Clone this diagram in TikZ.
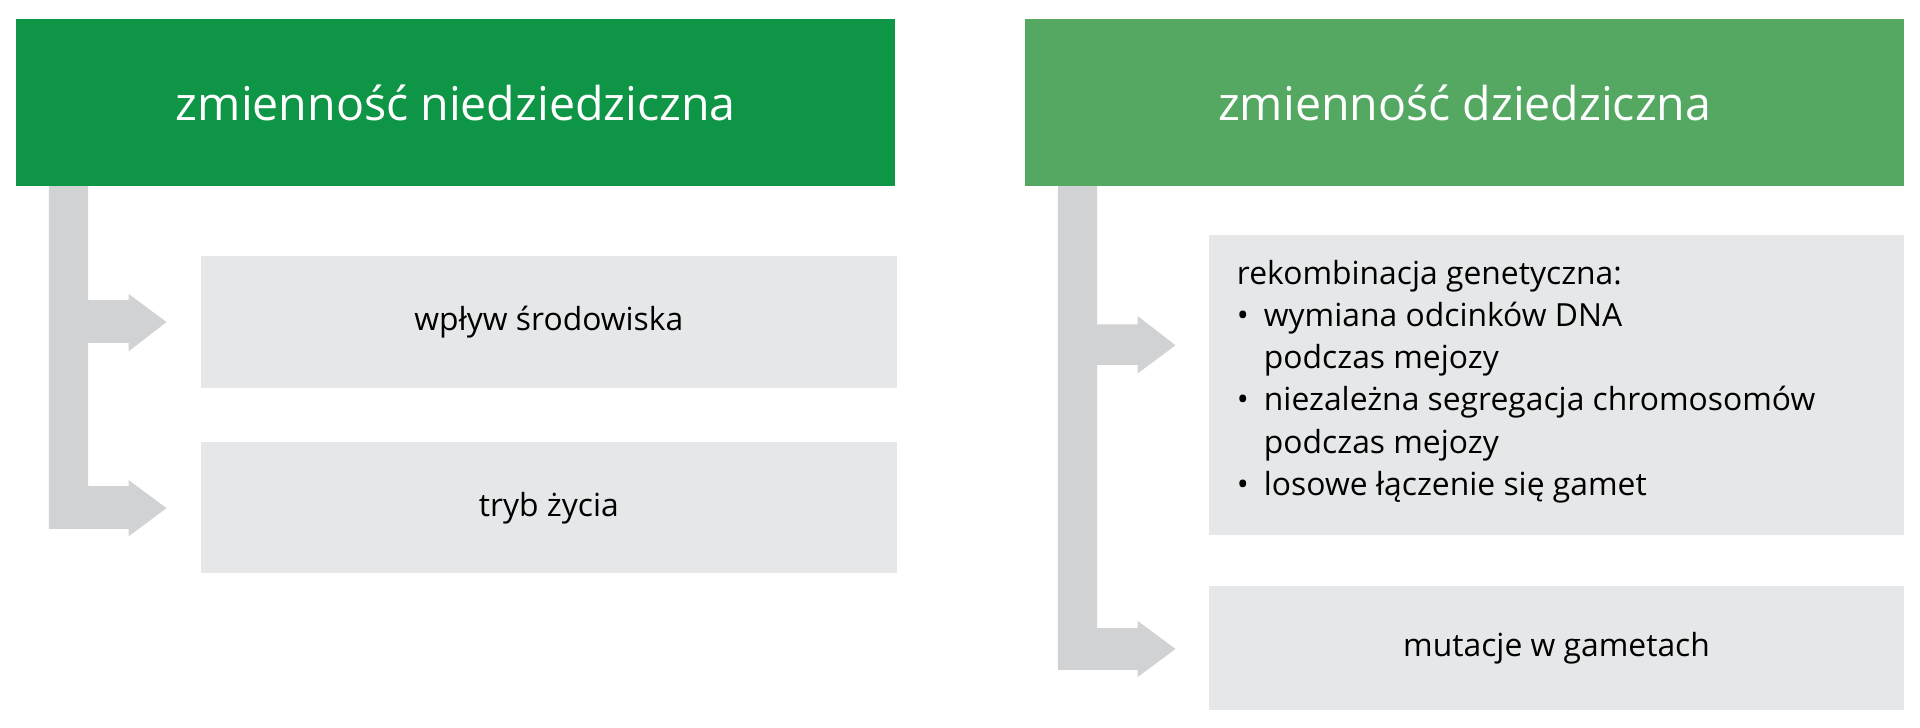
\documentclass[tikz,border=0pt]{standalone}
\usepackage{fontspec}
\setmainfont{Open Sans}
\definecolor{dg}{HTML}{0E9646}
\definecolor{lg}{HTML}{55A862}
\definecolor{bx}{HTML}{E6E7E8}
\definecolor{ar}{HTML}{D1D2D4}
\begin{document}
\begin{tikzpicture}[x=1pt,y=-1pt,
  hdr/.style={anchor=north west,inner sep=0pt,minimum width=718pt,minimum height=137pt,text=white,font=\fontsize{38}{46}\selectfont},
  box/.style={anchor=north west,fill=bx,inner sep=0pt,minimum width=568pt,font=\fontsize{26}{34.5}\selectfont}]
\useasboundingbox (0,0) rectangle (1568,594);
\node[hdr,fill=dg] (h1) at (13,15) {zmienność niedziedziczna};
\node[hdr,fill=lg] (h2) at (837,15) {zmienność dziedziczna};
\node[box,minimum height=108pt] (b1) at (164,209) {wpływ środowiska};
\node[box,minimum height=107pt] (b2) at (164,361) {tryb życia};
\node[box,minimum height=245pt] (b3) at (987,192) {};
\node[anchor=north west,inner sep=0pt,align=left,font=\fontsize{26}{34.5}\selectfont] (t3) at (1010,212) {rekombinacja genetyczna:\\
\makebox[22pt][l]{\textbullet}wymiana odcinków DNA\\
\hspace*{22pt}podczas mejozy\\
\makebox[22pt][l]{\textbullet}niezależna segregacja chromosomów\\
\hspace*{22pt}podczas mejozy\\
\makebox[22pt][l]{\textbullet}losowe łączenie się gamet};
\node[box,minimum height=102pt] (b4) at (987,478) {mutacje w gametach};
% left arrows
\fill[ar] (40,152) -- (72,152) -- (72,245) -- (105,245) -- (105,240) -- (136,263) -- (105,287) -- (105,280) -- (72,280) -- (72,397) -- (105,397) -- (105,392) -- (136,415) -- (105,438) -- (105,432) -- (40,432) -- cycle;
% right arrows
\fill[ar] (864,152) -- (896,152) -- (896,265) -- (929,265) -- (929,258) -- (960,282) -- (929,305) -- (929,298) -- (896,298) -- (896,513) -- (929,513) -- (929,507) -- (960,530) -- (929,553) -- (929,547) -- (864,547) -- cycle;
\end{tikzpicture}
\end{document}
